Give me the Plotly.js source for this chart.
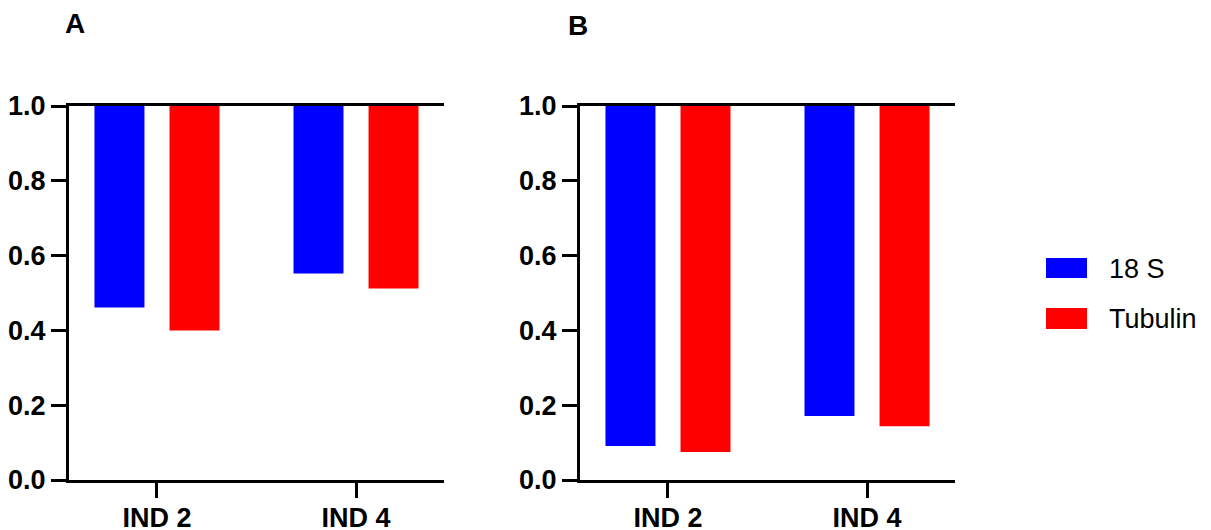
<!DOCTYPE html>
<html>
<head>
<meta charset="utf-8">
<script src="https://cdn.plot.ly/plotly-3.0.1.min.js"></script>
<style>html,body{margin:0;padding:0;background:#fff;}#chart{width:1211px;height:530px;}</style>
</head>
<body>
<div id="chart"></div>
<script>
// ---- data ----
const categories = ["IND 2", "IND 4"];
const seriesNames = ["18 S", "Tubulin"];
const panelA_18S = [0.461, 0.552];
const panelA_Tubulin = [0.400, 0.512];
const panelB_18S = [0.091, 0.171];
const panelB_Tubulin = [0.075, 0.144];
const yTicks = [0.0, 0.2, 0.4, 0.6, 0.8, 1.0];
const panelLabels = ["A", "B"];
const baseline = 1.0;

const colors = ["#0000FF", "#FF0000"];
const W = 1211, H = 530;
const px = x => x / W;
const py = y => 1 - y / H;

function barTrace(vals, name, color, xa, ya) {
  return {
    type: "bar",
    x: categories,
    y: vals.map(v => v - baseline),
    base: baseline,
    name: name,
    marker: { color: color, line: { width: 0 } },
    xaxis: xa, yaxis: ya,
    showlegend: false,
    hovertemplate: "%{x}: %{customdata}<extra>" + name + "</extra>",
    customdata: vals
  };
}

const data = [
  barTrace(panelA_18S, seriesNames[0], colors[0], "x", "y"),
  barTrace(panelA_Tubulin, seriesNames[1], colors[1], "x", "y"),
  barTrace(panelB_18S, seriesNames[0], colors[0], "x2", "y2"),
  barTrace(panelB_Tubulin, seriesNames[1], colors[1], "x2", "y2")
];

const tickFont = { family: "Liberation Sans, Arial, sans-serif", size: 27, color: "#000", weight: "bold" };

function xAxis(domain, anchor) {
  return {
    domain: domain, anchor: anchor,
    type: "category",
    range: [-0.442, 1.442],
    showline: true, linecolor: "#000", linewidth: 3, mirror: true,
    ticks: "outside", ticklen: 15, tickwidth: 3, tickcolor: "#000",
    ticklabelstandoff: -3,
    showgrid: false, zeroline: false,
    tickfont: tickFont, fixedrange: true
  };
}
function yAxis(anchor) {
  return {
    domain: [py(480), py(106)], anchor: anchor,
    range: [0, 1],
    tickvals: yTicks, ticktext: yTicks.map(v => v.toFixed(1)),
    showline: true, linecolor: "#000", linewidth: 3,
    ticks: "outside", ticklen: 15, tickwidth: 3, tickcolor: "#000",
    showgrid: false, zeroline: false,
    tickfont: tickFont, fixedrange: true
  };
}

const annFont = { family: "Liberation Sans, Arial, sans-serif", size: 28, color: "#000", weight: "bold" };
const legFont = { family: "Liberation Sans, Arial, sans-serif", size: 27, color: "#000" };

const layout = {
  width: W, height: H,
  margin: { l: 0, r: 0, t: 0, b: 0 },
  paper_bgcolor: "#fff", plot_bgcolor: "#fff",
  barmode: "group", bargap: 0.246, bargroupgap: 0.334,
  showlegend: false,
  xaxis: xAxis([px(69), px(444)], "y"),
  yaxis: yAxis("x"),
  xaxis2: xAxis([px(580), px(955)], "y2"),
  yaxis2: yAxis("x2"),
  annotations: [
    { text: panelLabels[0], xref: "paper", yref: "paper", x: px(75), y: py(24), xanchor: "center", yanchor: "middle", showarrow: false, font: annFont },
    { text: panelLabels[1], xref: "paper", yref: "paper", x: px(578), y: py(26), xanchor: "center", yanchor: "middle", showarrow: false, font: annFont },
    { text: seriesNames[0], xref: "paper", yref: "paper", x: px(1107), y: py(269), xanchor: "left", yanchor: "middle", showarrow: false, font: legFont },
    { text: seriesNames[1], xref: "paper", yref: "paper", x: px(1107), y: py(319), xanchor: "left", yanchor: "middle", showarrow: false, font: legFont }
  ],
  shapes: [
    { type: "rect", xref: "paper", yref: "paper", x0: px(1046), x1: px(1087), y0: py(278), y1: py(258), fillcolor: colors[0], line: { width: 0 } },
    { type: "rect", xref: "paper", yref: "paper", x0: px(1046), x1: px(1087), y0: py(329), y1: py(308), fillcolor: colors[1], line: { width: 0 } }
  ]
};

Plotly.newPlot("chart", data, layout, { displayModeBar: false, staticPlot: true });
</script>
</body>
</html>
